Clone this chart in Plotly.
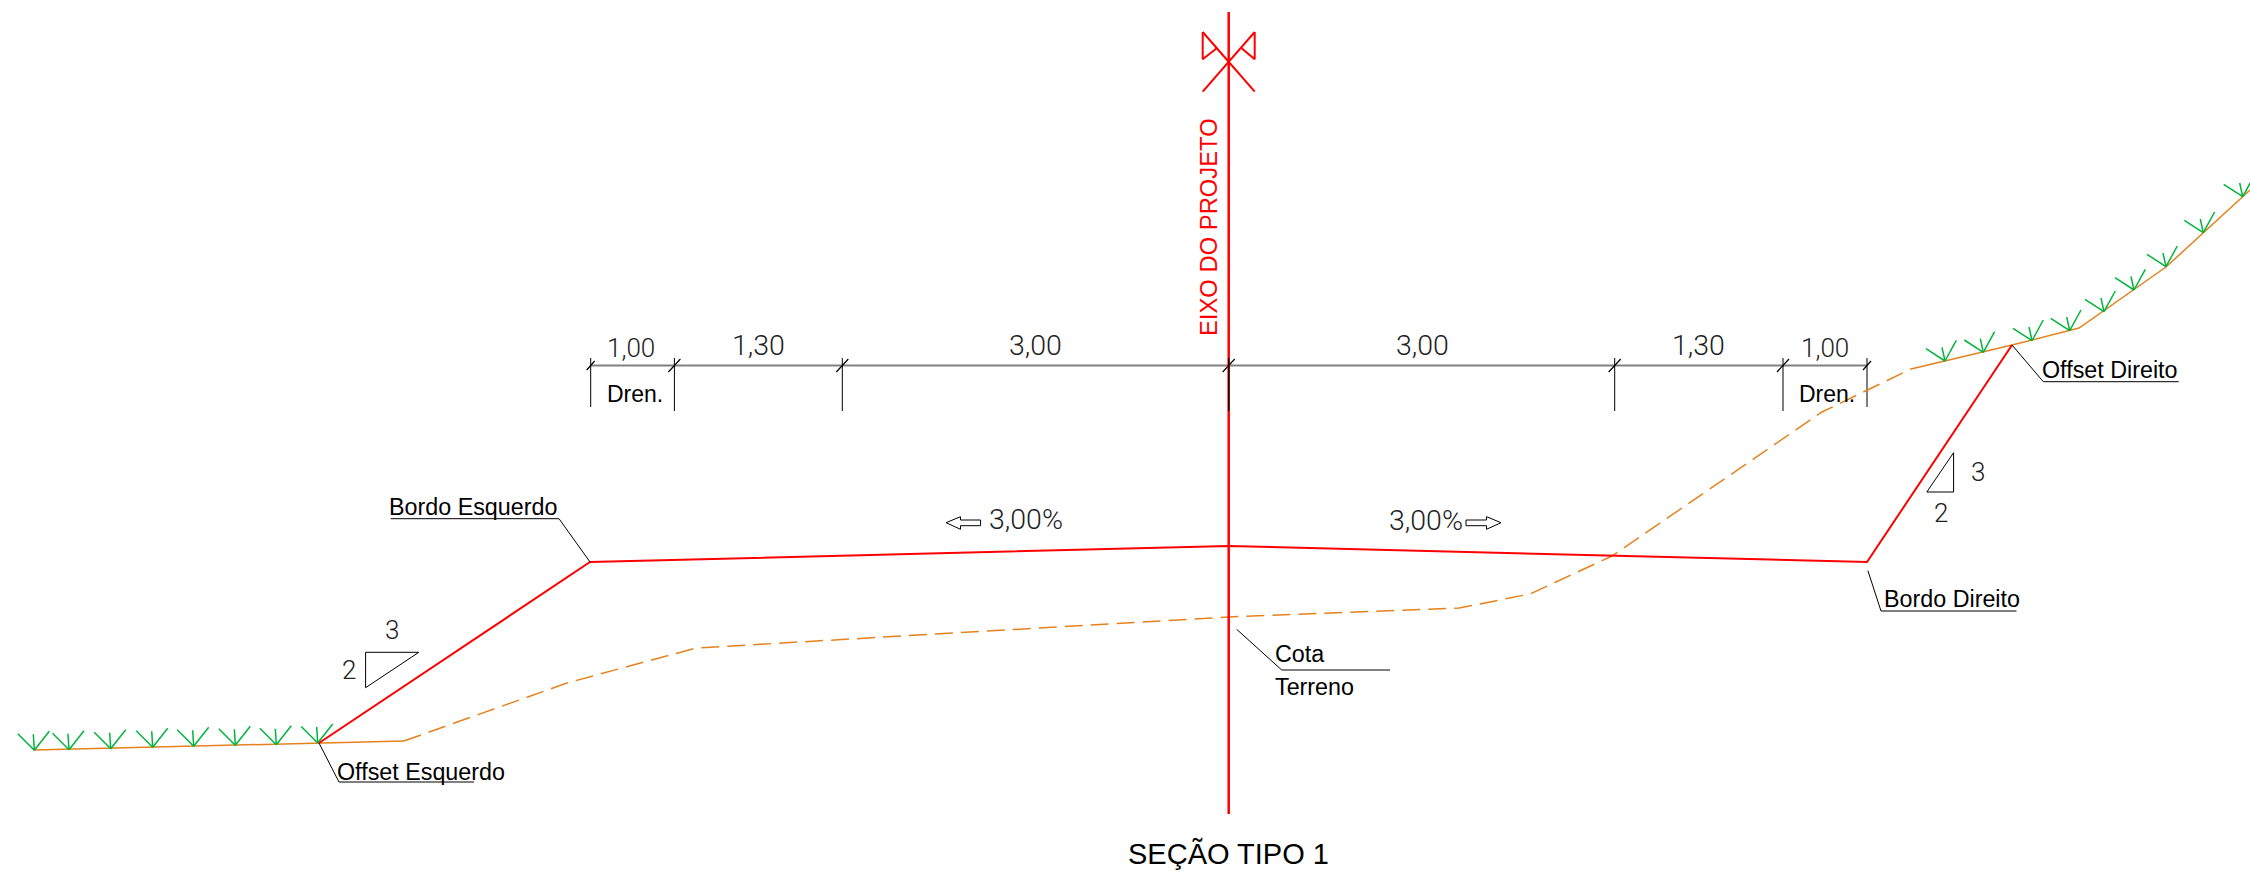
import plotly.graph_objects as go

# --- drawing data, read from the section (drawing units, y grows downward) ---
axis_x = [1228.7, 1228.7]
axis_y = [12, 814]
cross_a_x = [1202.7, 1254.7]
cross_a_y = [91.7, 32]
cross_b_x = [1202.7, 1254.7]
cross_b_y = [32, 91.7]
flag_l_x = [1202.7, 1202.7, 1217.3]
flag_l_y = [32, 59.3, 47.7]
flag_r_x = [1254.7, 1254.7, 1241]
flag_r_y = [32, 59.3, 47.7]

platform_x = [319, 590, 1228.7, 1867, 2012]
platform_y = [743, 562, 546, 562, 345]

ground_l_x = [34, 319, 404]
ground_l_y = [750, 743, 741]
ground_m_x = [404, 567, 696, 1228.7, 1459, 1530, 1612, 1822, 1911]
ground_m_y = [741, 683, 648, 617, 608, 594, 556, 412, 369]
ground_r_x = [1911, 2012, 2079, 2166, 2250]
ground_r_y = [369, 345, 328, 267, 190]

tuft_l_x = [34.3, 69, 110.7, 152.7, 193.7, 235.3, 276.3, 317.7]
tuft_l_y = [750.3, 749.7, 748.7, 747.3, 746.3, 745.3, 744.7, 743]
tuft_l_dx = [-16.5, -1, 15]
tuft_l_dy = [-16.5, -16, -19]
tuft_r_x = [1945, 1983.3, 2032, 2069.7, 2104, 2134, 2166, 2203.3, 2242.7]
tuft_r_y = [361, 352.3, 340.7, 330.7, 311.7, 290, 266.7, 232.7, 196.7]
tuft_r_dx = [-19, -3, 11.3]
tuft_r_dy = [-12.3, -13.7, -20.7]

dim_x = [590.7, 1867]
dim_y = [365.5, 365.5]
ext_x = [590.7, 674.4, 842.3, 1228.7, 1614.7, 1783, 1867]
ext_top = [358, 358, 358, 358, 358, 358, 358]
ext_bot = [407, 411, 411, 411, 411, 411, 407]
tick_half = [4, 6, 6, 6, 6, 6, 4]

leaders = {
    "Bordo Esquerdo": ([590, 559, 390.6], [562, 518.7, 518.7]),
    "Offset Esquerdo": ([319, 339, 474], [743, 782, 782]),
    "Offset Direito": ([2012, 2043.3, 2178.7], [345, 381.7, 381.7]),
    "Bordo Direito": ([1867.9, 1881, 2016.5], [570.7, 611, 611]),
    "Cota": ([1236.7, 1281.7, 1390], [629.3, 670, 670]),
}
tri_l_x = [365.6, 418.8, 365.6, 365.6]
tri_l_y = [652.3, 652.3, 687.7, 652.3]
tri_r_x = [1953.6, 1953.6, 1926.8, 1953.6]
tri_r_y = [452.7, 492, 492, 452.7]
arrow_l_x = [946, 960.5, 960.5, 980.6, 980.6, 960.5, 960.5, 946]
arrow_l_y = [522.7, 516.7, 520, 520, 525.7, 525.7, 529.3, 522.7]
arrow_r_x = [1501, 1486.5, 1486.5, 1466, 1466, 1486.5, 1486.5, 1501]
arrow_r_y = [522.7, 516.7, 520, 520, 525.7, 525.7, 529.3, 522.7]

dim_labels = ["1,00", "1,30", "3,00", "3,00", "1,30", "1,00"]
dim_label_x = [631, 758.6, 1035.6, 1422, 1698, 1825.4]
dim_label_y = [348, 345, 345, 345, 345, 348]
dim_label_s = [26, 28.5, 28.5, 28.5, 28.5, 26]
thin_labels = ["3", "2", "3", "2", "3,00%", "3,00%"]
thin_x = [392, 349, 1977.7, 1941, 1025.5, 1426]
thin_y = [630, 670, 471.7, 512.7, 519, 520]
thin_s = [26, 26, 26, 26, 28.5, 28.5]
left_labels = ["Bordo Esquerdo", "Offset Esquerdo", "Offset Direito", "Bordo Direito", "Cota", "Terreno"]
left_label_x = [388, 336, 2040.5, 1882.5, 1274, 1274]
left_label_y = [507, 771.7, 370, 599, 654, 687.3]
dren_x = [634.7, 1826.8]
dren_y = [394, 394]

RED = "#ff0000"
ORANGE = "#e5821e"
GREEN = "#00b33c"
BLACK = "#000000"
GRAY = "#808080"
SANS = "Liberation Sans"
THIN = "Roboto"

fig = go.Figure()


def line(x, y, color=BLACK, width=1.0, dash=None):
    fig.add_trace(go.Scatter(x=x, y=y, mode="lines", hoverinfo="skip", showlegend=False,
                             line=dict(color=color, width=width, dash=dash)))


def label(text, x, y, size, color=BLACK, family=SANS, anchor="center", angle=0, weight=None):
    fig.add_annotation(x=x, y=y, xref="x", yref="y", text=text, showarrow=False, xanchor=anchor,
                       yanchor="middle", textangle=angle, borderpad=0,
                       font=dict(family=family, size=size, color=color, weight=weight))


# dimension chain
line(dim_x, dim_y, GRAY, 2)
for x, top, bot, h in zip(ext_x, ext_top, ext_bot, tick_half):
    line([x, x], [top, bot], BLACK, 1)
    line([x - h, x + h], [366 + h, 366 - h - 1], BLACK, 1.2)

# terrain
line(ground_l_x, ground_l_y, ORANGE, 1.5)
line(ground_m_x, ground_m_y, ORANGE, 1.5, "18px,8px")
line(ground_r_x, ground_r_y, ORANGE, 1.5)

# vegetation tufts
for tx, ty in zip(tuft_l_x, tuft_l_y):
    for dx, dy in zip(tuft_l_dx, tuft_l_dy):
        line([tx, tx + dx], [ty, ty + dy], GREEN, 1.5)
for tx, ty in zip(tuft_r_x, tuft_r_y):
    for dx, dy in zip(tuft_r_dx, tuft_r_dy):
        line([tx, tx + dx], [ty, ty + dy], GREEN, 1.5)

# platform and project axis
line(platform_x, platform_y, RED, 2)
line(axis_x, axis_y, RED, 2.5)
line([1228.7, 1228.7], [358, 411], BLACK, 1.5)
line(cross_a_x, cross_a_y, RED, 2)
line(cross_b_x, cross_b_y, RED, 2)
line(flag_l_x, flag_l_y, RED, 2)
line(flag_r_x, flag_r_y, RED, 2)

# leaders and symbols
for lx, ly in leaders.values():
    line(lx, ly, BLACK, 1)
line(tri_l_x, tri_l_y, BLACK, 1)
line(tri_r_x, tri_r_y, BLACK, 1)
line(arrow_l_x, arrow_l_y, BLACK, 1)
line(arrow_r_x, arrow_r_y, BLACK, 1)

# text
for t, x, y, s in zip(dim_labels, dim_label_x, dim_label_y, dim_label_s):
    label(t, x, y, s, "#222222", THIN, weight=300)
for t, x, y, s in zip(thin_labels, thin_x, thin_y, thin_s):
    label(t, x, y, s, "#222222", THIN, weight=300)
for t, x, y in zip(left_labels, left_label_x, left_label_y):
    label(t, x, y, 23.3, anchor="left")
for x, y in zip(dren_x, dren_y):
    label("Dren.", x, y, 23)
label("EIXO DO PROJETO", 1208, 227, 23.8, RED, angle=-90)
label("SEÇÃO TIPO 1", 1228, 853, 29)

fig.update_layout(
    width=2250, height=873, margin=dict(l=0, r=0, t=0, b=0),
    paper_bgcolor="white", plot_bgcolor="white", showlegend=False,
    xaxis=dict(range=[0, 2250], visible=False, fixedrange=True),
    yaxis=dict(range=[873, 0], visible=False, fixedrange=True),
)
fig.write_html("out.html", config={"displayModeBar": False},
               post_script="document.body.style.margin='0';window.dispatchEvent(new Event('resize'));")
